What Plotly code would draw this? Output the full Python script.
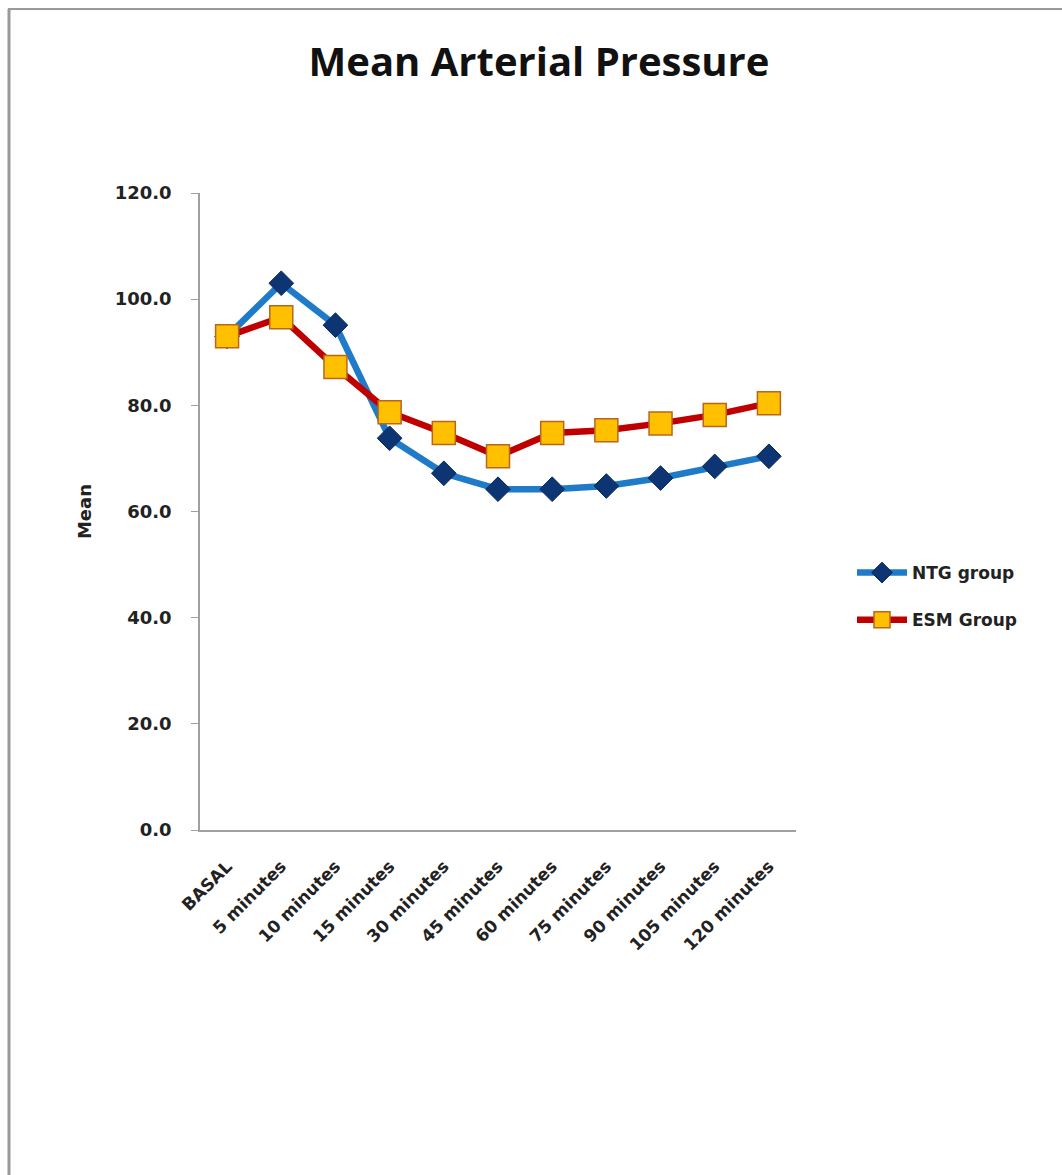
import plotly.graph_objects as go

categories = ["BASAL", "5 minutes", "10 minutes", "15 minutes", "30 minutes", "45 minutes",
              "60 minutes", "75 minutes", "90 minutes", "105 minutes", "120 minutes"]
ntg_values = [93.0, 103.0, 95.1, 73.8, 67.2, 64.2, 64.2, 64.8, 66.3, 68.5, 70.4]
esm_values = [93.0, 96.6, 87.2, 78.7, 74.8, 70.4, 74.8, 75.3, 76.6, 78.2, 80.4]
y_ticks = [0, 20, 40, 60, 80, 100, 120]
y_tick_labels = ["0.0", "20.0", "40.0", "60.0", "80.0", "100.0", "120.0"]

W, H = 1062, 1175
L, R, T, B = 200, 266, 193, 345
pw, ph = W - L - R, H - T - B

fig = go.Figure()
fig.add_trace(go.Scatter(
    x=categories, y=ntg_values, name="<b>NTG group</b>", mode="lines+markers",
    legendgroup="ntg",
    line=dict(color="#1f7bc8", width=6.5),
    marker=dict(symbol="diamond", size=19, color="#0d3473", line=dict(color="#0a2a5e", width=1)),
))
fig.add_trace(go.Scatter(
    x=categories, y=esm_values, name="<b>ESM Group</b>", mode="lines+markers",
    legendgroup="esm",
    line=dict(color="#c00000", width=6.5),
    marker=dict(symbol="square", size=23, color="#ffc000", line=dict(color="#b8661e", width=1.5)),
))

title_font = "Open Sans, Noto Sans, DejaVu Sans, sans-serif"
tick_font = "DejaVu Sans, Verdana, sans-serif"


def px_x(px):
    return (px - L) / pw


def px_y(py):
    return (H - B - py) / ph


shapes = [
    dict(type="line", xref="paper", yref="paper", x0=px_x(8), x1=px_x(1062), y0=px_y(9), y1=px_y(9),
         line=dict(color="#9a9a9a", width=2)),
    dict(type="line", xref="paper", yref="paper", x0=px_x(9), x1=px_x(9), y0=px_y(9), y1=px_y(1175),
         line=dict(color="#9a9a9a", width=3)),
]

fig.update_layout(
    width=W, height=H,
    margin=dict(l=L, r=R, t=T, b=B, autoexpand=False),
    paper_bgcolor="white", plot_bgcolor="white",
    font=dict(family=tick_font, color="#222222"),
    title=dict(text="<b>Mean Arterial Pressure</b>", x=539 / W, xref="container", xanchor="center",
               y=1 - 62 / H, yref="container", yanchor="middle",
               font=dict(size=40, family=title_font, color="#111111")),
    showlegend=True,
    legend=dict(x=px_x(852), y=px_y(555), xanchor="left", yanchor="top",
                font=dict(size=17, family=tick_font, color="#222222"),
                bgcolor="rgba(0,0,0,0)", itemwidth=50, tracegroupgap=22),
    shapes=shapes,
)
fig.update_xaxes(
    type="category", range=[-0.5, 10.5], showgrid=False, showline=True,
    linecolor="#a0a0a0", linewidth=1.5, ticks="", tickangle=-45,
    tickfont=dict(size=17, family=tick_font, color="#222222"),
    tickprefix="<b>", ticksuffix="</b>", ticklabelstandoff=18,
)
fig.update_yaxes(
    range=[0, 120], tickvals=y_ticks, ticktext=["<b>" + t + "</b>" for t in y_tick_labels],
    showgrid=False, showline=True, linecolor="#a0a0a0", linewidth=1.5,
    ticks="outside", ticklen=7, tickcolor="#a0a0a0", ticklabelstandoff=16,
    tickfont=dict(size=18, family=tick_font, color="#222222"),
    title=dict(text="<b>Mean</b>", font=dict(size=18, family=tick_font, color="#222222"), standoff=18),
    zeroline=False,
)
fig.write_html("out.html")
